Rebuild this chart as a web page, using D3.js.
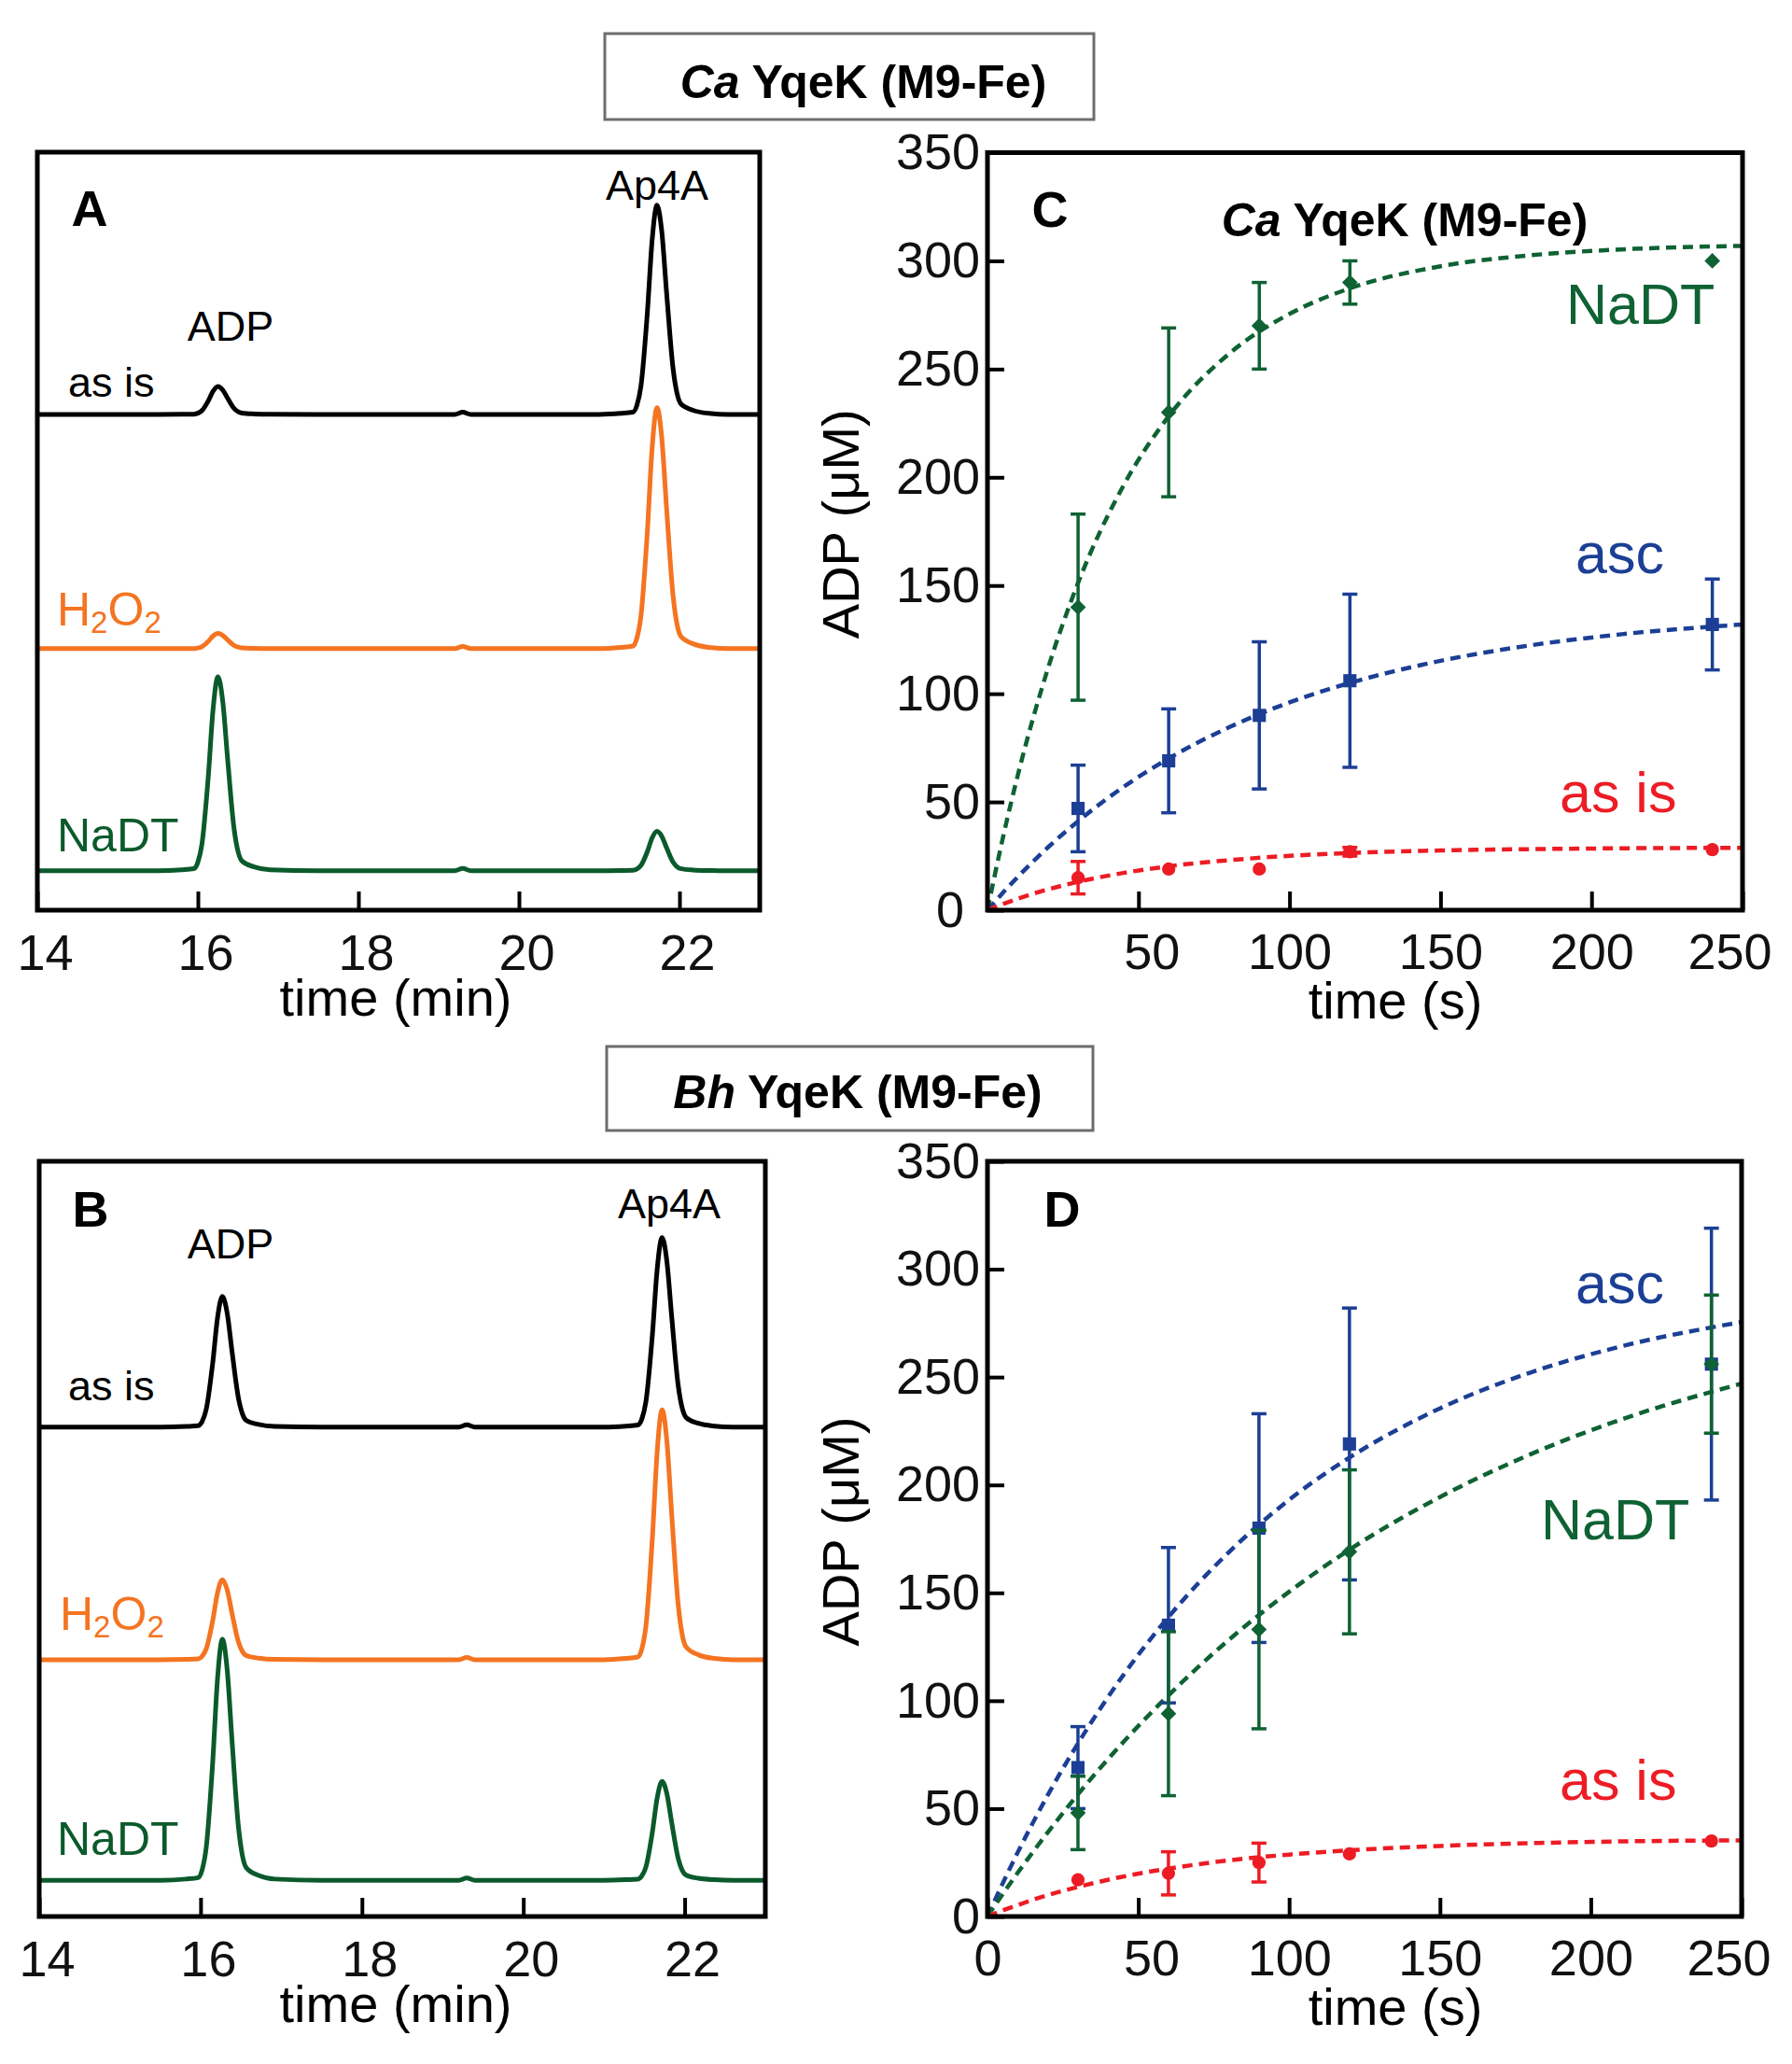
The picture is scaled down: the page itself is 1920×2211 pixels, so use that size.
<!DOCTYPE html>
<html lang="en">
<head>
<meta charset="UTF-8" />
<title>YqeK ADP formation</title>
<script src="https://d3js.org/d3.v7.min.js"></script>
<style>
  body { margin: 0; background: #fff; }
  svg { display: block; font-family: "Liberation Sans", Arial, Helvetica, sans-serif; }
</style>
</head>
<body>
<svg id="fig" width="1920" height="2211"></svg>
<script>
// ---------- chromatograms (A, B) : absorbance, arbitrary units ----------
const chromTicks = [14, 16, 18, 20, 22];

const timesA = [14, 15.5, 15.8, 15.95, 16, 16.05, 16.13, 16.19, 16.25, 16.31, 16.37, 16.45, 16.5, 16.55, 16.7, 16.9,
  17.5, 19.2, 19.3, 19.4, 21, 21.27, 21.42, 21.47, 21.52, 21.6, 21.66, 21.72, 21.78, 21.84, 21.92, 21.97, 22.02, 22.17, 22.37, 22.6, 23];
const asIsA = [0, 0, 0.02, 0.04, 0.16, 0.5, 1.8, 3.09, 3.7, 3.23, 2.15, 0.81, 0.37, 0.19, 0.07, 0.02,
  0, 0, 0.3, 0, 0, 0.14, 0.3, 1.21, 3.73, 13.44, 23.05, 27.6, 24.09, 16.01, 6.07, 2.76, 1.38, 0.55, 0.14, 0, 0];
const h2o2A = [0, 0, 0.01, 0.02, 0.09, 0.27, 0.97, 1.67, 2.0, 1.75, 1.16, 0.44, 0.2, 0.1, 0.04, 0.01,
  0, 0, 0.3, 0, 0, 0.16, 0.35, 1.4, 4.29, 15.49, 26.55, 31.8, 27.76, 18.44, 7.0, 3.18, 1.59, 0.64, 0.16, 0, 0];
const nadtA = [0, 0, 0.13, 0.28, 1.13, 3.46, 12.47, 21.38, 25.6, 22.35, 14.85, 5.63, 2.56, 1.28, 0.51, 0.13,
  0, 0, 0.3, 0, 0, 0.03, 0.06, 0.23, 0.7, 2.53, 4.34, 5.2, 4.54, 3.02, 1.14, 0.52, 0.26, 0.1, 0.03, 0, 0];
const offsetsA = [65.4, 34.5, 5.2];

const timesB = [14, 15.5, 15.82, 15.97, 16.02, 16.07, 16.15, 16.21, 16.27, 16.33, 16.39, 16.47, 16.52, 16.57, 16.72, 16.92,
  17.5, 19.2, 19.3, 19.4, 21, 21.27, 21.42, 21.47, 21.52, 21.6, 21.66, 21.72, 21.78, 21.84, 21.92, 21.97, 22.02, 22.17, 22.37, 22.6, 23];
const asIsB = [0, 0, 0.09, 0.19, 0.76, 2.34, 8.43, 14.45, 17.3, 15.1, 10.03, 3.81, 1.73, 0.87, 0.35, 0.09,
  0, 0, 0.3, 0, 0, 0.13, 0.28, 1.1, 3.39, 12.22, 20.96, 25.1, 21.91, 14.56, 5.52, 2.51, 1.26, 0.5, 0.13, 0, 0];
const h2o2B = [0, 0, 0.05, 0.12, 0.47, 1.43, 5.16, 8.85, 10.6, 9.25, 6.15, 2.33, 1.06, 0.53, 0.21, 0.05,
  0, 0, 0.3, 0, 0, 0.17, 0.36, 1.46, 4.47, 16.12, 27.64, 33.1, 28.9, 19.2, 7.28, 3.31, 1.66, 0.66, 0.17, 0, 0];
const nadtB = [0, 0, 0.16, 0.35, 1.4, 4.31, 15.54, 26.64, 31.9, 27.85, 18.5, 7.02, 3.19, 1.6, 0.64, 0.16,
  0, 0, 0.3, 0, 0, 0.07, 0.14, 0.58, 1.77, 6.38, 10.94, 13.1, 11.44, 7.6, 2.88, 1.31, 0.66, 0.26, 0.07, 0, 0];
const offsetsB = [64.8, 34.0, 4.8];

// ---------- kinetics (C, D) : ADP (uM) vs time (s) ----------
const adpTicks = [0, 50, 100, 150, 200, 250, 300, 350];
const timeTicksC = [50, 100, 150, 200, 250];
const timeTicksD = [0, 50, 100, 150, 200, 250];
const sampleTimes = [30, 60, 90, 120, 240];
const fitTimes = [0, 5, 10, 20, 30, 45, 60, 80, 100, 120, 150, 180, 210, 250];

const nadtC = [140, 230, 270, 290, 300];
const nadtErrC = [43, 39, 20, 10, 0];
const ascC = [47, 69, 90, 106, 132];
const ascErrC = [20, 24, 34, 40, 21];
const asIsC = [15, 19, 19, 27, 28];
const asIsErrC = [7.5, 0, 0, 2, 0];
const nadtFitC = [0, 32.8, 62.1, 111.6, 151.2, 196.1, 228.2, 257.1, 275.5, 287.3, 297.5, 302.6, 305.3, 306.9];
const ascFitC = [0, 7.9, 15.3, 29.0, 41.1, 56.9, 70.1, 84.5, 96.0, 105.0, 115.2, 122.4, 127.5, 132.0];
const asIsFitC = [0, 2.8, 5.3, 9.6, 13.1, 17.2, 20.3, 23.1, 25.1, 26.4, 27.6, 28.2, 28.6, 28.8];

const ascD = [69, 135, 180, 219, 256];
const ascErrD = [19, 36, 53, 63, 63];
const nadtD = [48, 94, 133, 169, 256];
const nadtErrD = [17, 38, 46, 38, 32];
const asIsD = [17, 20, 25, 29, 35];
const asIsErrD = [0, 10, 9, 0, 0];
const ascFitD = [0, 15.2, 29.6, 56.3, 80.2, 111.8, 138.8, 168.8, 193.1, 212.7, 235.5, 252.1, 264.2, 275.5];
const nadtFitD = [0, 10.3, 20.2, 39.0, 56.6, 80.8, 102.5, 128.2, 150.5, 170.0, 194.4, 214.2, 230.3, 247.0];
const asIsFitD = [0, 2.8, 5.3, 9.9, 13.7, 18.5, 22.2, 26.0, 28.7, 30.7, 32.7, 34.0, 34.8, 35.3];

// colours
const BLACK = "#000", ORANGE = "#f47421", DKGREEN = "#0b5a2c",
      GREEN = "#0f6233", BLUE = "#1c3f95", RED = "#ed1c24";

const svg = d3.select("#fig");
svg.append("rect").attr("width", 1920).attr("height", 2211).attr("fill", "#fff");

function addText(x, y, txt, size, color, anchor, weight) {
  return svg.append("text")
    .attr("x", x).attr("y", y)
    .attr("font-size", size)
    .attr("fill", color || BLACK)
    .attr("text-anchor", anchor || "start")
    .attr("font-weight", weight || "normal")
    .text(txt);
}

function h2o2Label(x, y) {
  const t = svg.append("text").attr("x", x).attr("y", y).attr("font-size", 50).attr("fill", ORANGE);
  t.append("tspan").text("H");
  t.append("tspan").text("2").attr("font-size", 33).attr("dy", 8);
  t.append("tspan").text("O").attr("dy", -8);
  t.append("tspan").text("2").attr("font-size", 33).attr("dy", 8);
}

function titleBox(x, y, w, h, species, cx, by) {
  svg.append("rect").attr("x", x).attr("y", y).attr("width", w).attr("height", h)
    .attr("fill", "#fff").attr("stroke", "#6d6d6d").attr("stroke-width", 3);
  const t = svg.append("text").attr("x", cx).attr("y", by).attr("font-size", 50)
    .attr("font-weight", "bold").attr("text-anchor", "middle");
  t.append("tspan").attr("font-style", "italic").text(species);
  t.append("tspan").text(" YqeK (M9-Fe)");
}

function frame(p) {
  svg.append("rect").attr("x", p.x0).attr("y", p.y0)
    .attr("width", p.x1 - p.x0).attr("height", p.y1 - p.y0)
    .attr("fill", "none").attr("stroke", BLACK).attr("stroke-width", 5);
}

function styleAxis(ax) {
  ax.attr("font-size", null).attr("font-family", null);
  ax.select(".domain").remove();
  ax.selectAll(".tick line").attr("stroke", BLACK).attr("stroke-width", 4);
  ax.selectAll(".tick text").attr("font-size", 54).attr("fill", "#111");
}

function chromPanel(p) {
  const x = d3.scaleLinear().domain([14, 23]).range([p.x0, p.x1]);
  const y = d3.scaleLinear().domain([0, 100]).range([p.y1, p.y0]);

  p.traces.forEach((tr, i) => {
    const line = d3.line()
      .x((d, j) => x(p.times[j]))
      .y(d => y(d + p.offsets[i]))
      .curve(d3.curveMonotoneX);
    svg.append("path").datum(tr.values)
      .attr("d", line).attr("fill", "none")
      .attr("stroke", tr.color).attr("stroke-width", 5)
      .attr("stroke-linejoin", "round");
  });

  const ax = svg.append("g").attr("transform", `translate(0,${p.y1})`)
    .call(d3.axisBottom(x).tickValues(chromTicks).tickFormat(d3.format("d"))
      .tickSize(-20).tickPadding(26));
  styleAxis(ax);
  ax.selectAll(".tick text").attr("dx", 8);

  addText(424, p.y1 + 113, "time (min)", 56, BLACK, "middle");
  frame(p);
}

// small hand offsets of some tick labels, as placed in the original figure
const xLabelShift = { 50: 14, 250: -14 };

function kinPanel(p) {
  const x = d3.scaleLinear().domain([0, 250]).range([p.x0, p.x1]);
  const y = d3.scaleLinear().domain([0, 350]).range([p.y1, p.y0]);
  const clipId = "clip" + p.id;
  svg.append("clipPath").attr("id", clipId).append("rect")
    .attr("x", p.x0).attr("y", p.y0).attr("width", p.x1 - p.x0).attr("height", p.y1 - p.y0);
  const g = svg.append("g").attr("clip-path", `url(#${clipId})`);

  const fitLine = d3.line().x((d, j) => x(fitTimes[j])).y(d => y(d)).curve(d3.curveMonotoneX);

  p.series.forEach(s => {
    g.append("path").datum(s.fit)
      .attr("d", fitLine).attr("fill", "none")
      .attr("stroke", s.color).attr("stroke-width", 4.5)
      .attr("stroke-dasharray", "11,7");
  });

  p.series.forEach(s => {
    const pts = sampleTimes.map((t, i) => ({ t, v: s.mean[i], e: s.err[i] }));
    const eb = g.append("g").attr("stroke", s.color).attr("stroke-width", 3.5);
    pts.filter(d => d.e > 0).forEach(d => {
      eb.append("line").attr("x1", x(d.t)).attr("x2", x(d.t)).attr("y1", y(d.v - d.e)).attr("y2", y(d.v + d.e));
      [d.v - d.e, d.v + d.e].forEach(v => {
        eb.append("line").attr("x1", x(d.t) - 8).attr("x2", x(d.t) + 8).attr("y1", y(v)).attr("y2", y(v));
      });
    });
    const sym = d3.symbol().type(s.shape === "circle" ? d3.symbolCircle : d3.symbolSquare)
      .size(s.shape === "circle" ? 160 : s.shape === "diamond" ? 140 : 200);
    g.selectAll(null).data(pts).join("path")
      .attr("d", sym)
      .attr("transform", d => `translate(${x(d.t)},${y(d.v)})` + (s.shape === "diamond" ? " rotate(45)" : ""))
      .attr("fill", s.color);
  });

  const ay = svg.append("g").attr("transform", `translate(${p.x0},0)`)
    .call(d3.axisLeft(y).tickValues(adpTicks).tickFormat(d3.format("d"))
      .tickSize(-18).tickPadding(8));
  styleAxis(ay);
  if (p.id === "C") ay.selectAll(".tick text").filter(d => d === 0).attr("dx", -17);

  const ax = svg.append("g").attr("transform", `translate(0,${p.y1})`)
    .call(d3.axisBottom(x).tickValues(p.xTicks).tickFormat(d3.format("d"))
      .tickSize(-20).tickPadding(25));
  styleAxis(ax);
  ax.selectAll(".tick text").attr("dx", d => xLabelShift[d] || 0);

  addText(1495, p.y1 + 116, "time (s)", 56, BLACK, "middle");
  svg.append("text")
    .attr("transform", `translate(900,${(p.y0 + p.y1) / 2 - 8}) rotate(-90)`)
    .attr("text-anchor", "middle").attr("dominant-baseline", "central")
    .attr("font-size", 56).text("ADP (\u03bcM)");
  frame(p);
}

// ---------- layout ----------
titleBox(648, 36, 524, 92, "Ca", 925, 105);
titleBox(650, 1121, 521, 90, "Bh", 919, 1187);

chromPanel({
  x0: 40, x1: 814, y0: 163, y1: 975,
  times: timesA, offsets: offsetsA,
  traces: [{ values: asIsA, color: BLACK }, { values: h2o2A, color: ORANGE }, { values: nadtA, color: DKGREEN }]
});
addText(96, 242, "A", 54, BLACK, "middle", "bold");
addText(704, 214, "Ap4A", 45, BLACK, "middle");
addText(247, 365, "ADP", 45, BLACK, "middle");
addText(73, 425, "as is", 45);
h2o2Label(61, 670);
addText(61, 912, "NaDT", 50, DKGREEN);

chromPanel({
  x0: 42, x1: 820, y0: 1244, y1: 2053,
  times: timesB, offsets: offsetsB,
  traces: [{ values: asIsB, color: BLACK }, { values: h2o2B, color: ORANGE }, { values: nadtB, color: DKGREEN }]
});
addText(97, 1314, "B", 54, BLACK, "middle", "bold");
addText(717, 1305, "Ap4A", 45, BLACK, "middle");
addText(247, 1348, "ADP", 45, BLACK, "middle");
addText(73, 1500, "as is", 45);
h2o2Label(64, 1746);
addText(61, 1987, "NaDT", 50, DKGREEN);

kinPanel({
  id: "C", x0: 1058, x1: 1867, y0: 163.5, y1: 975, xTicks: timeTicksC,
  series: [
    { mean: nadtC, err: nadtErrC, fit: nadtFitC, color: GREEN, shape: "diamond" },
    { mean: ascC, err: ascErrC, fit: ascFitC, color: BLUE, shape: "square" },
    { mean: asIsC, err: asIsErrC, fit: asIsFitC, color: RED, shape: "circle" }
  ]
});
addText(1125, 243, "C", 54, BLACK, "middle", "bold");
{
  const t = svg.append("text").attr("x", 1505).attr("y", 253).attr("font-size", 50)
    .attr("font-weight", "bold").attr("text-anchor", "middle");
  t.append("tspan").attr("font-style", "italic").text("Ca");
  t.append("tspan").text(" YqeK (M9-Fe)");
}
addText(1678, 347, "NaDT", 61, GREEN);
addText(1688, 614, "asc", 61, BLUE);
addText(1671, 870, "as is", 61, RED);

kinPanel({
  id: "D", x0: 1058, x1: 1866, y0: 1244, y1: 2053, xTicks: timeTicksD,
  series: [
    { mean: ascD, err: ascErrD, fit: ascFitD, color: BLUE, shape: "square" },
    { mean: nadtD, err: nadtErrD, fit: nadtFitD, color: GREEN, shape: "diamond" },
    { mean: asIsD, err: asIsErrD, fit: asIsFitD, color: RED, shape: "circle" }
  ]
});
addText(1138, 1314, "D", 54, BLACK, "middle", "bold");
addText(1688, 1396, "asc", 61, BLUE);
addText(1651, 1649, "NaDT", 61, GREEN);
addText(1671, 1928, "as is", 61, RED);
</script>
</body>
</html>
